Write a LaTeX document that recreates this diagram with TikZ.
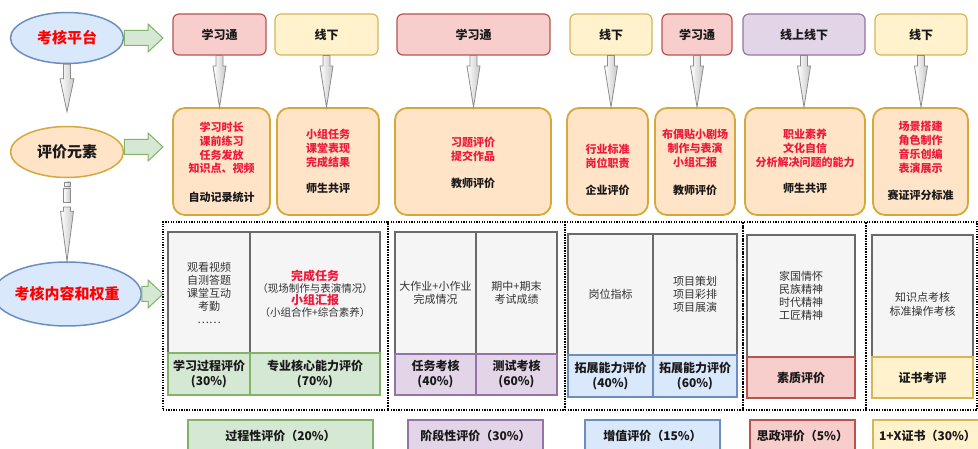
\documentclass[tikz,border=0pt]{standalone}
\usepackage{fontspec}
\setmainfont{Noto Sans CJK SC}
\usetikzlibrary{calc,shapes.geometric}
\definecolor{pinkF}{HTML}{F8CECC}\definecolor{pinkD}{HTML}{B85450}
\definecolor{yelF}{HTML}{FFF2CC}\definecolor{yelD}{HTML}{D6B656}
\definecolor{purF}{HTML}{E1D5E7}\definecolor{purD}{HTML}{9673A6}
\definecolor{bluF}{HTML}{DAE8FC}\definecolor{bluD}{HTML}{6C8EBF}
\definecolor{grnF}{HTML}{D5E8D4}\definecolor{grnD}{HTML}{82B366}
\definecolor{orgF}{HTML}{FFE4C8}\definecolor{orgD}{HTML}{D6A83A}
\definecolor{gryF}{HTML}{F5F5F5}\definecolor{gryD}{HTML}{6A6A6A}
\definecolor{redT}{HTML}{EE1A3C}
\definecolor{txt}{HTML}{1A1A1A}
\definecolor{holD}{HTML}{8C8C8C}
\tikzset{
  bx/.style={draw, inner sep=0pt, line width=1.2pt, align=center, text=txt},
  plat/.style={bx, rounded corners=6pt, font=\fontsize{12}{14}\selectfont\bfseries},
  elem/.style={bx, rounded corners=12pt, fill=orgF, draw=orgD, line width=1.8pt},
  grybox/.style={bx, fill=gryF, draw=gryD, line width=1.8pt, text=black!80, font=\fontsize{11}{13}\selectfont},
  wbox/.style={bx, line width=1.8pt, font=\fontsize{12}{15}\selectfont\bfseries},
  botbox/.style={bx, line width=1.5pt, font=\fontsize{12}{14}\selectfont\bfseries},
  grp/.style={draw=black, line width=1.3pt, dash pattern=on 1.3pt off 1.3pt, inner sep=0pt},
  redtxt/.style={align=center, text=redT, inner sep=0pt, font=\fontsize{11}{13.8}\selectfont\bfseries},
  blktxt/.style={align=center, text=txt, inner sep=0pt, font=\fontsize{11}{13}\selectfont\bfseries},
  ell/.style={ellipse, draw, line width=1.5pt, inner sep=0pt, minimum width=113pt, font=\fontsize{15}{17}\selectfont\bfseries},
  garr/.style={fill=grnF, draw=grnD, line width=1pt, line join=miter},
  hol/.style={left color=white, right color=black!22, draw=holD, line width=0.8pt, line join=miter},
}
\newcommand\mybox[7]{\node[#2, minimum width={#5-#3}, minimum height={#6-#4}] (#1) at ({(#3+#5)/2},{(#4+#6)/2}) {#7};}
\newcommand\garrow[2]{\draw[garr] let \p1=(#1), \p2=(#2) in
  (\x1,\y2+7.5pt) -- (\x2-15pt,\y2+7.5pt) -- (\x2-15pt,\y2+14pt) -- (\x2,\y2)
  -- (\x2-15pt,\y2-14pt) -- (\x2-15pt,\y2-7.5pt) -- (\x1,\y2-7.5pt) -- cycle;}
\newcommand\harrow[5]{\draw[hol] let \p1=(#1), \p2=(#2) in
  (\x1-#3,\y1) -- (\x1-#3,\y2+#5) -- (\x1-#4,\y2+#5) -- (\x1,\y2)
  -- (\x1+#4,\y2+#5) -- (\x1+#3,\y2+#5) -- (\x1+#3,\y1) -- cycle;}
\begin{document}
\begin{tikzpicture}[x=1pt,y=-1pt]
\clip (0,0) rectangle (978,449);
\fill[white] (0,0) rectangle (978,449);
% ellipses
\node[ell, fill=bluF, draw=bluD, minimum height=51pt, text=red] (ell1) at (67,38) {考核平台};
\node[ell, fill=orgF, draw=orgD, minimum height=51pt, text=txt] (ell2) at (67,152) {评价元素};
\node[ell, fill=bluF, draw=bluD, minimum width=112pt, minimum height=64pt, text=red] (ell3) at (67,294) {考核内容和权重};
\coordinate (t1) at (163,38);
\coordinate (t2) at (163,147);
\coordinate (t3) at (163,294);
\garrow{ell1.east}{t1}
\garrow{ell2.east}{t2}
\garrow{ell3.east}{t3}
% platforms
\mybox{p1}{plat, fill=pinkF, draw=pinkD}{173}{14}{266}{55}{学习通}
\mybox{p2}{plat, fill=yelF, draw=yelD}{275}{14}{378}{55}{线下}
\mybox{p3}{plat, fill=pinkF, draw=pinkD}{397}{14}{550}{55}{学习通}
\mybox{p4}{plat, fill=yelF, draw=yelD}{570}{14}{652}{55}{线下}
\mybox{p5}{plat, fill=pinkF, draw=pinkD}{662}{14}{732}{55}{学习通}
\mybox{p6}{plat, fill=purF, draw=purD}{743}{14}{865}{55}{线上线下}
\mybox{p7}{plat, fill=yelF, draw=yelD}{875}{14}{967}{55}{线下}
% element boxes
\mybox{e1}{elem}{173}{108}{270}{215}{}
\mybox{e2}{elem}{277}{108}{379}{215}{}
\mybox{e3}{elem}{395}{108}{551}{215}{}
\mybox{e4}{elem}{567}{108}{648}{215}{}
\mybox{e5}{elem}{655}{108}{735}{215}{}
\mybox{e6}{elem}{745}{108}{865}{215}{}
\mybox{e7}{elem}{873}{108}{968}{215}{}
\node[redtxt] (e1r) at (221.5,148) {学习时长\\课前练习\\任务发放\\知识点、视频};
\node[blktxt] (e1b) at (221.5,197) {自动记录统计};
\node[redtxt] (e2r) at (328,148.5) {小组任务\\课堂表现\\完成结果};
\node[blktxt] (e2b) at (328,188) {师生共评};
\node[redtxt] (e3r) at (473,149.5) {习题评价\\提交作品};
\node[blktxt] (e3b) at (473,183) {教师评价};
\node[redtxt] (e4r) at (607.5,156.5) {行业标准\\岗位职责};
\node[blktxt] (e4b) at (607.5,190) {企业评价};
\node[redtxt] (e5r) at (695,148.5) {布偶贴小剧场\\制作与表演\\小组汇报};
\node[blktxt] (e5b) at (695,190) {教师评价};
\node[redtxt] (e6r) at (805,148.5) {职业素养\\文化自信\\分析解决问题的能力};
\node[blktxt] (e6b) at (805,188) {师生共评};
\node[redtxt] (e7r) at (920.5,147.5) {场景搭建\\角色制作\\音乐创编\\表演展示};
\node[blktxt] (e7b) at (920.5,195) {赛证评分标准};
% hollow down arrows
\harrow{ell1.south}{$(ell2.north)+(0,-14)$}{3.5pt}{7pt}{33pt}
\harrow{p1.south}{e1.north}{3.5pt}{6.5pt}{41pt}
\harrow{p2.south}{e2.north}{3.5pt}{6.5pt}{41pt}
\harrow{p3.south}{e3.north}{3.5pt}{6.5pt}{41pt}
\harrow{p4.south}{e4.north}{3.5pt}{6.5pt}{41pt}
\harrow{p5.south}{e5.north}{3.5pt}{6.5pt}{41pt}
\harrow{p6.south}{e6.north}{3.5pt}{6.5pt}{41pt}
\harrow{p7.south}{e7.north}{3.5pt}{6.5pt}{41pt}
\coordinate (brk) at (67,207);
\harrow{brk}{ell3.north}{3.5pt}{6.5pt}{50pt}
\draw[hol] (64,182) rectangle (70,186);
\draw[hol] (63.5,188) rectangle (70.5,202);
% dotted groups
\mybox{grp1}{grp}{163}{222}{388}{410}{}
\mybox{grp2}{grp}{388}{222}{565}{410}{}
\mybox{grp3}{grp}{565}{222}{743}{410}{}
\mybox{grp4}{grp}{743}{222}{866}{410}{}
\mybox{grp5}{grp}{866}{222}{977}{410}{}
% group 1
\mybox{g1a}{grybox}{168}{232}{250}{353}{观看视频\\自测答题\\课堂互动\\考勤\\……}
\mybox{g1b}{grybox}{250}{232}{380}{353}{}
\node[align=center, inner sep=0pt] (g1t) at (315,293.5) {%
  {\fontsize{12}{15}\selectfont\bfseries\color{redT}完成任务}\\
  {\fontsize{10.5}{15}\selectfont\color{black!80}（现场制作与表演情况）}\\
  {\fontsize{12}{15}\selectfont\bfseries\color{redT}小组汇报}\\
  {\fontsize{10.5}{15}\selectfont\color{black!80}（小组合作+综合素养）}};
\mybox{g1c}{wbox, fill=grnF, draw=grnD}{168}{353}{250}{395}{学习过程评价\\(30\%)}
\mybox{g1d}{wbox, fill=grnF, draw=grnD}{250}{353}{380}{395}{专业核心能力评价\\(70\%)}
% group 2
\mybox{g2a}{grybox}{395}{232}{476}{354}{大作业+小作业\\完成情况}
\mybox{g2b}{grybox}{476}{232}{557}{354}{期中+期末\\考试成绩}
\mybox{g2c}{wbox, fill=purF, draw=purD}{395}{354}{476}{395}{任务考核\\(40\%)}
\mybox{g2d}{wbox, fill=purF, draw=purD}{476}{354}{557}{395}{测试考核\\(60\%)}
% group 3
\mybox{g3a}{grybox}{568}{234}{653}{355}{岗位指标}
\mybox{g3b}{grybox}{653}{234}{737}{355}{项目策划\\项目彩排\\项目展演}
\mybox{g3c}{wbox, fill=bluF, draw=bluD}{568}{355}{653}{397}{拓展能力评价\\(40\%)}
\mybox{g3d}{wbox, fill=bluF, draw=bluD}{653}{355}{737}{397}{拓展能力评价\\(60\%)}
% group 4
\mybox{g4a}{grybox}{747}{235}{855}{357}{家国情怀\\民族精神\\时代精神\\工匠精神}
\mybox{g4b}{wbox, fill=pinkF, draw=pinkD}{747}{357}{855}{398}{素质评价}
% group 5
\mybox{g5a}{grybox}{872}{235}{973}{357}{}
\node[align=center, inner sep=0pt, text=black!80, font=\fontsize{11}{14}\selectfont] (g5t) at (922.5,304) {知识点考核\\标准操作考核};
\mybox{g5b}{wbox, fill=yelF, draw=yelD}{872}{357}{973}{398}{证书考评}
% bottom row
\mybox{b1}{botbox, fill=grnF, draw=grnD}{188}{420}{373}{452}{过程性评价（20\%）}
\mybox{b2}{botbox, fill=purF, draw=purD}{408}{420}{543}{452}{阶段性评价（30\%）}
\mybox{b3}{botbox, fill=bluF, draw=bluD}{585}{420}{720}{452}{增值评价（15\%）}
\mybox{b4}{botbox, fill=pinkF, draw=pinkD}{750}{420}{855}{452}{思政评价（5\%）}
\mybox{b5}{botbox, fill=yelF, draw=yelD}{873}{420}{982}{452}{1+X证书（30\%）}
\end{tikzpicture}
\end{document}
